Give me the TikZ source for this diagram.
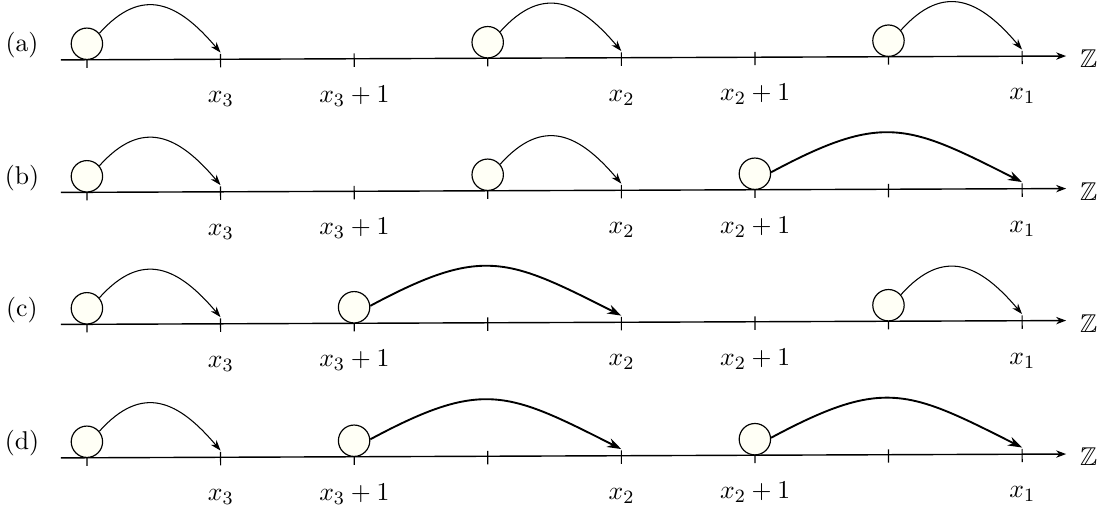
\documentclass[tikz,border=0pt,11pt]{standalone}
\usepackage{amsmath,amssymb}
\usetikzlibrary{arrows.meta}
\definecolor{siteyellow}{RGB}{255,255,246}

\tikzset{
  site/.style={circle, draw, line width=0.5pt, fill=siteyellow,
    minimum size=4.7mm, inner sep=0pt},
  axis/.style={line width=0.6pt, -{Stealth[length=1.5mm,width=1.1mm]}},
  tickmark/.style={line width=0.5pt},
  hop/.style={line width=0.45pt, -{Stealth[length=1.6mm,width=1.1mm]},
    out=48, in=130, looseness=1.35},
  longhop/.style={line width=0.8pt, -{Stealth[length=2.1mm,width=1.4mm]},
    out=28, in=153, looseness=1.3}
}

% one copy of Z with its ticks and labels, #1 = row name
\newcommand{\siteaxis}[2]{%
  \foreach \k in {0,...,7}
    \draw[tickmark] (2*\k,0.08) -- (2*\k,-0.12);
  \coordinate (#1-start) at (-0.39,0);
  \coordinate (#1-end) at (14.66,0);
  \draw[axis] (#1-start) -- (#1-end)
    node[right, xshift=0.07cm, yshift=-0.04cm] (#1-Z) {$\mathbb{Z}$};
  \node[anchor=base] (#1-lab) at (-0.973,0.127) {(#2)};
  \foreach \k/\txt in {1/x_3, 2/x_3+1, 4/x_2, 5/x_2+1, 7/x_1}
    \node[anchor=base] (#1-l\k) at (2*\k,-0.65) {$\txt$};
  \foreach \k in {0,...,7}
    \coordinate (#1-t\k) at (2*\k,0.1);
}

\begin{document}
\begin{tikzpicture}
  \useasboundingbox (0,0) rectangle (16.527,-7.650);

  % (a)
  \begin{scope}[shift={(1.302,-0.895)}, rotate=0.22]
    \siteaxis{a}{a}
    \node[site] (a-s0) at (0,0.24) {};
    \node[site] (a-s3) at (6,0.24) {};
    \node[site] (a-s6) at (12,0.24) {};
    \draw[hop] (a-s0.40) to (a-t1);
    \draw[hop] (a-s3.40) to (a-t4);
    \draw[hop] (a-s6.40) to (a-t7);
  \end{scope}

  % (b)
  \begin{scope}[shift={(1.302,-2.879)}, rotate=0.22]
    \siteaxis{b}{b}
    \node[site] (b-s0) at (0,0.24) {};
    \node[site] (b-s3) at (6,0.24) {};
    \node[site] (b-s5) at (10,0.24) {};
    \draw[hop] (b-s0.40) to (b-t1);
    \draw[hop] (b-s3.40) to (b-t4);
    \draw[longhop] (b-s5.5) to (b-t7);
  \end{scope}

  % (c)
  \begin{scope}[shift={(1.302,-4.855)}, rotate=0.22]
    \siteaxis{c}{c}
    \node[site] (c-s0) at (0,0.24) {};
    \node[site] (c-s2) at (4,0.24) {};
    \node[site] (c-s6) at (12,0.24) {};
    \draw[hop] (c-s0.40) to (c-t1);
    \draw[longhop] (c-s2.5) to (c-t4);
    \draw[hop] (c-s6.40) to (c-t7);
  \end{scope}

  % (d)
  \begin{scope}[shift={(1.302,-6.853)}, rotate=0.22]
    \siteaxis{d}{d}
    \node[site] (d-s0) at (0,0.24) {};
    \node[site] (d-s2) at (4,0.24) {};
    \node[site] (d-s5) at (10,0.24) {};
    \draw[hop] (d-s0.40) to (d-t1);
    \draw[longhop] (d-s2.5) to (d-t4);
    \draw[longhop] (d-s5.5) to (d-t7);
  \end{scope}
\end{tikzpicture}
\end{document}
